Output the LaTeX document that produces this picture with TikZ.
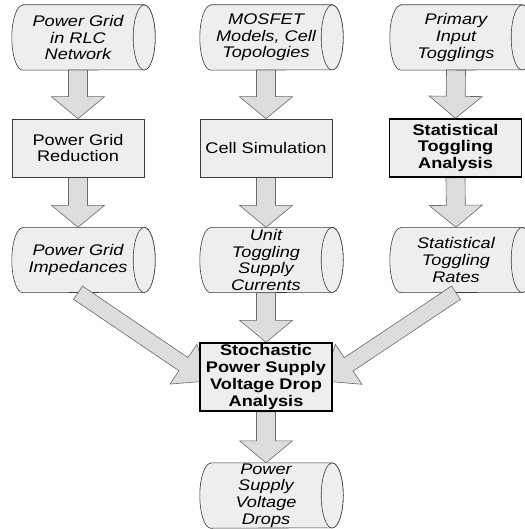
\documentclass[tikz,border=0pt]{standalone}
\usepackage{fontspec}
\newfontfamily\diagfont[FakeStretch=1.18]{Liberation Sans}
\usetikzlibrary{calc}

\pgfdeclarelayer{cyl}
\pgfdeclarelayer{flow}
\pgfsetlayers{cyl,flow,main}

\definecolor{shapefill}{RGB}{238,238,238}
\definecolor{arrowfill}{RGB}{221,221,221}
\definecolor{arrowline}{RGB}{105,105,105}
\definecolor{shapeline}{RGB}{60,60,60}

\tikzset{
    datacyl/.style={minimum width=132pt, minimum height=65pt, inner sep=0pt, align=center,
        font=\diagfont\itshape\fontsize{15.4}{16.7}\selectfont},
    procbox/.style={draw=shapeline, fill=shapefill, line width=0.6pt, minimum width=132pt,
        minimum height=58pt, inner sep=0pt, align=center, font=\diagfont\fontsize{15.4}{16.7}\selectfont},
    keybox/.style={procbox, draw=black, line width=1.4pt, font=\diagfont\bfseries\fontsize{15.4}{16.7}\selectfont},
    cylshape/.style={fill=shapefill, draw=shapeline, line width=0.6pt},
    blockarrow/.style={fill=arrowfill, draw=arrowline, line width=0.6pt, line join=miter}
}

% head length and half width of the block arrows
\def\headlen{22}
\def\headwid{26.5}

% block arrow from #2 to #3, shaft half width #1
\newcommand{\flowarrow}[3][9.5]{%
    \begin{pgfonlayer}{flow}
    \path[blockarrow] ($(#2)!#1pt!90:(#3)$) -- ($(#3)!\headlen pt!(#2)!#1pt!90:(#3)$)
        -- ($(#3)!\headlen pt!(#2)!\headwid pt!90:(#3)$) -- (#3)
        -- ($(#3)!\headlen pt!(#2)!\headwid pt!-90:(#3)$)
        -- ($(#3)!\headlen pt!(#2)!#1pt!-90:(#3)$) -- ($(#2)!#1pt!-90:(#3)$) -- cycle;
    \end{pgfonlayer}}

% cylinder outline behind a datacyl node
\newcommand{\cylbody}[1]{%
    \begin{pgfonlayer}{cyl}
    \path[cylshape] ([xshift=11pt]#1.north west) -- (#1.north east)
        arc[start angle=-90, end angle=90, x radius=11, y radius=32.5]
        -- ([xshift=11pt]#1.south west)
        arc[start angle=90, end angle=270, x radius=11, y radius=32.5] -- cycle;
    \path[cylshape] (#1.east) ellipse[x radius=11, y radius=32.5];
    \end{pgfonlayer}}

\begin{document}
\begin{tikzpicture}[x=1pt, y=-1pt]

    \begin{pgfonlayer}{cyl}
    \fill[white] (0,0) rectangle (524,529);
    \end{pgfonlayer}
    \useasboundingbox (0,0) rectangle (524,529);

    \node[datacyl] (pgrid) at (78,37.5) {Power Grid\\in RLC\\Network};
    \node[datacyl] (mosfet) at (266,37.5) {MOSFET\\Models, Cell\\Topologies};
    \node[datacyl] (pitog) at (456,37.5) {Primary\\Input\\Togglings};

    \node[procbox] (pgred) at (78,148) {Power Grid\\Reduction};
    \node[procbox] (cellsim) at (266,148) {Cell Simulation};
    \node[keybox] (stattog) at (455.5,148) {Statistical\\Toggling\\Analysis};

    \node[datacyl] (pgimp) at (78,260) {Power Grid\\Impedances};
    \node[datacyl] (units) at (266,260) {Unit\\Toggling\\Supply\\Currents};
    \node[datacyl] (togrates) at (456,260) {Statistical\\Toggling\\Rates};

    \node[keybox, minimum height=68pt] (stoch) at (266,377) {Stochastic\\Power Supply\\Voltage Drop\\Analysis};

    \node[datacyl] (vdrops) at (266,495.5) {Power\\Supply\\Voltage\\Drops};

    \foreach \c in {pgrid, mosfet, pitog, pgimp, units, togrates, vdrops}
        \cylbody{\c};

    \coordinate (lefttip) at ($(stoch.west)+(9,4)$);
    \coordinate (righttip) at ($(stoch.east)+(-9,4)$);

    \flowarrow{pgrid.south}{pgred.north}
    \flowarrow{mosfet.south}{cellsim.north}
    \flowarrow{pitog.south}{stattog.north}
    \flowarrow{pgred.south}{pgimp.north}
    \flowarrow{cellsim.south}{units.north}
    \flowarrow{stattog.south}{togrates.north}
    \flowarrow{units.south}{stoch.north}
    \flowarrow{stoch.south}{vdrops.north}

    % the two side inputs have longer heads
    {\def\headlen{30}\def\headwid{24}
    \flowarrow[8]{pgimp.south}{lefttip}
    \flowarrow[8]{togrates.south}{righttip}}

\end{tikzpicture}
\end{document}
